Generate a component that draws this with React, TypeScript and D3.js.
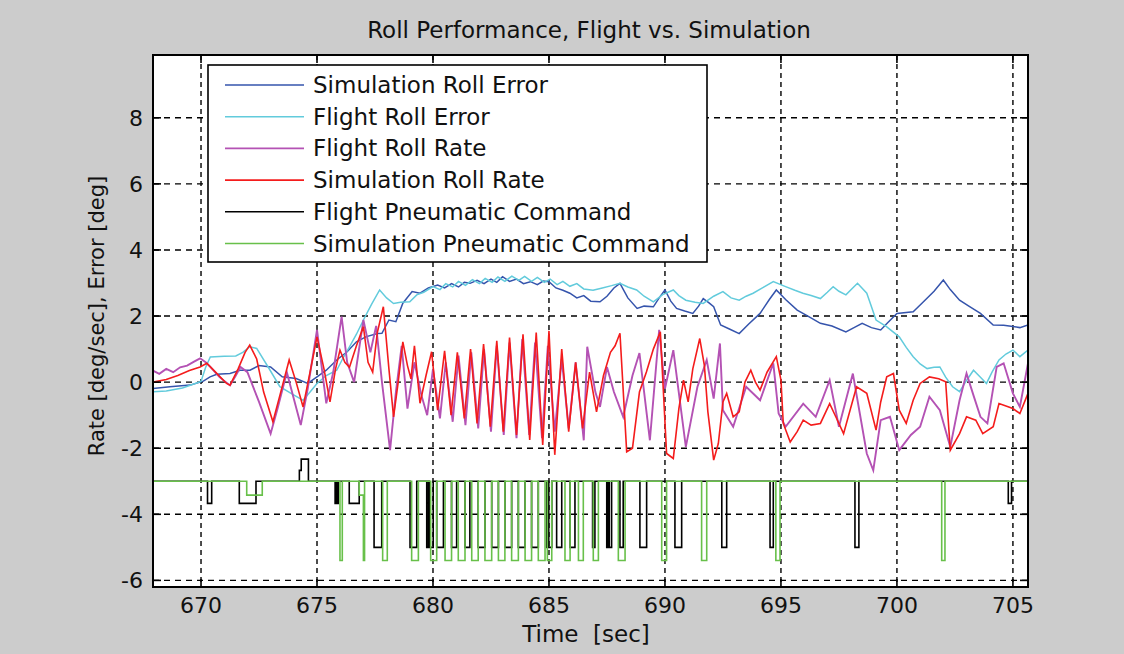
import React from 'react';
import * as d3 from 'd3';

type P = [number, number];

const xTicks = [670, 675, 680, 685, 690, 695, 700, 705];
const yTicks = [-6, -4, -2, 0, 2, 4, 6, 8];
const xDomain: [number, number] = [667.93, 705.65];
const yDomain: [number, number] = [-6.2, 9.9];

const titleText = 'Roll Performance, Flight vs. Simulation';
const xLabel = 'Time  [sec]';
const yLabel = 'Rate [deg/sec], Error [deg]';

const legendNames = [
  'Simulation Roll Error',
  'Flight Roll Error',
  'Flight Roll Rate',
  'Simulation Roll Rate',
  'Flight Pneumatic Command',
  'Simulation Pneumatic Command',
];
const colors = ['#3554ac', '#62cbdc', '#b452b4', '#f41c1c', '#000000', '#68c04a'];

const simRollError: P[] = [
  [667.93, -0.19], [668.66, -0.14], [669.53, -0.09], [670.1, 0.03], [670.39, 0.16], [670.68, 0.24],
  [671.25, 0.26], [671.68, 0.36], [672.11, 0.36], [672.5, 0.5], [673.0, 0.46], [673.5, 0.16],
  [674.1, 0.11], [674.6, -0.04], [675.0, 0.16], [675.4, 0.36], [675.85, 0.67], [676.3, 0.92],
  [676.7, 1.22], [677.1, 1.37], [677.6, 1.47], [677.8, 1.48], [678.1, 1.88], [678.4, 1.83],
  [678.7, 2.39], [679.1, 2.74], [679.44, 2.69], [679.8, 2.85], [680.2, 2.94], [680.5, 2.85],
  [680.8, 2.98], [681.1, 2.88], [681.35, 3.02], [681.6, 2.99], [681.9, 3.08], [682.2, 2.98],
  [682.5, 3.12], [682.75, 3.02], [683.0, 3.19], [683.3, 3.05], [683.6, 3.12], [683.9, 2.98],
  [684.2, 3.04], [684.5, 2.95], [684.75, 3.06], [685.0, 3.04], [685.3, 2.85], [685.6, 2.78],
  [685.9, 2.69], [686.2, 2.55], [686.5, 2.62], [686.8, 2.45], [687.2, 2.43], [687.5, 2.6],
  [687.8, 2.85], [688.06, 2.99], [688.4, 2.55], [688.8, 2.23], [689.1, 2.3], [689.5, 2.28],
  [689.75, 2.55], [690.0, 2.79], [690.25, 2.45], [690.5, 2.23], [690.85, 2.15], [691.2, 2.08],
  [691.45, 2.3], [691.65, 2.53], [691.9, 2.4], [692.1, 2.28], [692.4, 1.73], [692.8, 1.6],
  [693.2, 1.47], [693.6, 1.75], [694.1, 2.08], [694.5, 2.5], [694.8, 2.79], [695.2, 2.5],
  [695.7, 2.18], [696.2, 1.98], [696.7, 1.78], [697.2, 1.7], [697.8, 1.52], [698.15, 1.65],
  [698.5, 1.78], [698.9, 1.65], [699.3, 1.58], [699.6, 1.8], [700.0, 2.08], [700.7, 2.13],
  [701.1, 2.4], [701.6, 2.75], [702.0, 3.09], [702.3, 2.8], [702.7, 2.48], [703.1, 2.3],
  [703.6, 2.08], [704.15, 1.73], [704.6, 1.72], [705.0, 1.68], [705.3, 1.65], [705.65, 1.73],
];

const flightRollError: P[] = [
  [667.93, -0.29], [668.5, -0.27], [669.2, -0.18], [669.6, -0.08], [670.0, 0.02], [670.2, 0.45],
  [670.4, 0.76], [671.0, 0.78], [671.5, 0.79], [671.8, 0.9], [672.1, 1.07], [672.4, 1.02],
  [672.9, 0.45], [673.4, -0.14], [673.9, -0.35], [674.4, -0.55], [674.7, -0.3], [675.0, -0.04],
  [675.4, 0.2], [675.85, 0.36], [676.1, 0.7], [676.4, 1.07], [676.7, 1.45], [677.0, 1.88],
  [677.35, 2.35], [677.7, 2.79], [678.0, 2.55], [678.3, 2.38], [678.6, 2.42], [679.0, 2.43],
  [679.3, 2.64], [679.6, 2.72], [680.0, 2.89], [680.3, 2.8], [680.55, 2.98], [680.85, 2.88],
  [681.1, 3.05], [681.4, 2.93], [681.7, 3.1], [682.0, 2.98], [682.25, 3.14], [682.55, 3.02],
  [682.8, 3.18], [683.1, 3.05], [683.4, 3.21], [683.7, 3.08], [683.95, 3.2], [684.25, 3.05],
  [684.5, 3.17], [684.8, 3.02], [685.05, 3.12], [685.35, 2.95], [685.6, 3.05], [685.9, 2.9],
  [686.2, 2.98], [686.5, 2.82], [686.9, 2.78], [687.3, 2.85], [687.7, 2.92], [688.06, 2.99],
  [688.4, 2.88], [688.78, 2.79], [689.1, 2.6], [689.5, 2.43], [689.9, 2.65], [690.36, 2.79],
  [690.6, 2.62], [690.9, 2.48], [691.3, 2.42], [691.65, 2.38], [692.1, 2.6], [692.5, 2.74],
  [692.85, 2.55], [693.2, 2.48], [693.5, 2.6], [693.8, 2.69], [694.2, 2.85], [694.67, 3.04],
  [695.2, 2.89], [695.6, 2.78], [695.95, 2.69], [696.3, 2.62], [696.7, 2.53], [697.0, 2.72],
  [697.25, 2.89], [697.5, 2.75], [697.8, 2.64], [698.05, 2.82], [698.3, 2.99], [698.7, 2.69],
  [699.1, 1.88], [699.55, 1.68], [700.1, 1.37], [700.4, 1.05], [700.7, 0.77], [701.0, 0.55],
  [701.3, 0.41], [701.6, 0.45], [701.85, 0.46], [702.1, 0.15], [702.4, -0.14], [702.7, -0.29],
  [703.0, 0.05], [703.3, 0.36], [703.6, 0.15], [703.86, -0.04], [704.1, 0.3], [704.4, 0.67],
  [704.7, 0.85], [705.0, 0.97], [705.3, 0.77], [705.65, 0.97],
];

const flightRollRate: P[] = [
  [667.93, 0.35], [668.2, 0.25], [668.5, 0.4], [668.8, 0.3], [669.1, 0.45], [669.4, 0.5],
  [669.7, 0.62], [669.96, 0.72], [670.2, 0.6], [670.4, 0.46], [670.8, 0.15], [671.25, -0.1],
  [671.5, 0.2], [671.7, 0.46], [672.0, 0.3], [672.5, -0.6], [673.0, -1.56], [673.3, -0.8],
  [673.7, 0.3], [674.0, -0.5], [674.3, -1.3], [674.6, -0.2], [675.0, 1.58], [675.4, -0.64],
  [675.7, 0.3], [676.06, 1.98], [676.3, 0.6], [676.6, 0.0], [677.0, 1.88], [677.3, 0.9],
  [677.55, 1.7], [677.8, 0.0], [678.15, -2.06], [678.4, -0.3], [678.65, 1.1], [678.9, -0.8],
  [679.2, 0.6], [679.5, -0.4], [679.75, -1.0], [680.0, 0.4], [680.3, -1.1], [680.55, 0.6],
  [680.85, -1.2], [681.1, 0.8], [681.4, -1.3], [681.65, 0.9], [681.95, -1.4], [682.2, 1.0],
  [682.5, -1.5], [682.75, 1.1], [683.05, -1.6], [683.3, 1.2], [683.6, -1.7], [683.85, 1.3],
  [684.15, -1.6], [684.4, 1.2], [684.7, -1.7], [684.95, 1.1], [685.25, -1.5], [685.55, 0.7],
  [685.85, -1.4], [686.15, 0.6], [686.5, -1.76], [686.65, 1.07], [687.0, -0.3], [687.2, -0.75],
  [687.5, 0.46], [687.8, -0.3], [688.2, -1.05], [688.6, 0.2], [688.9, 0.88], [689.35, -1.76],
  [689.75, 1.58], [690.0, -0.2], [690.36, 0.97], [690.9, -1.96], [691.4, -0.14], [691.8, 0.67],
  [692.1, -0.5], [692.37, 1.17], [692.5, -0.85], [692.94, -1.35], [693.5, -0.14], [694.1, -0.55],
  [694.67, 0.57], [694.9, -0.95], [695.2, -1.35], [695.96, -0.65], [696.5, -1.05], [697.1, 0.06],
  [697.5, -1.35], [698.1, 0.26], [698.4, -0.95], [698.7, -2.16], [698.98, -2.67], [699.3, -1.15],
  [699.7, -1.05], [700.1, -2.06], [700.6, -1.6], [701.0, -1.35], [701.4, -0.44], [701.85, -0.85],
  [702.3, -1.96], [702.7, -0.55], [703.0, 0.26], [703.3, -0.4], [703.6, -1.05], [703.9, -1.25],
  [704.3, 0.46], [704.6, 0.57], [705.0, -0.34], [705.3, -0.75], [705.65, 0.57],
];

const simRollRate: P[] = [
  [667.93, 0.0], [668.5, 0.08], [669.0, 0.2], [669.5, 0.35], [669.96, 0.46], [670.25, 0.57],
  [670.7, 0.25], [671.1, -0.04], [671.25, -0.09], [671.6, 0.4], [671.9, 0.9], [672.1, 1.12],
  [672.4, 0.7], [672.7, -0.3], [673.1, -1.2], [673.4, -0.4], [673.8, 0.67], [674.1, 0.0],
  [674.4, -0.75], [674.7, 0.3], [675.0, 1.37], [675.3, 0.4], [675.56, -0.6], [675.8, 0.4],
  [675.99, 0.97], [676.2, 0.6], [676.4, 0.45], [676.7, 1.1], [677.0, 1.68], [677.2, 0.6],
  [677.4, 0.3], [677.6, 1.5], [677.86, 2.28], [678.1, 0.4], [678.3, -1.05], [678.5, 0.0],
  [678.7, 1.22], [678.9, 0.5], [679.05, 0.1], [679.2, 1.1], [679.44, -0.64], [679.7, 0.2],
  [679.94, 0.92], [680.2, -0.85], [680.5, 0.95], [680.78, -1.0], [681.05, 0.9], [681.35, -1.1],
  [681.62, 1.0], [681.9, -1.25], [682.18, 1.15], [682.47, -1.35], [682.75, 1.25], [683.03, -1.5],
  [683.3, 1.35], [683.6, -1.6], [683.88, 1.45], [684.17, -1.75], [684.45, 1.5], [684.73, -1.9],
  [685.0, 1.55], [685.25, -2.2], [685.55, 1.0], [685.85, -1.5], [686.15, 0.6], [686.45, -1.4],
  [686.75, 0.3], [687.05, -0.9], [687.35, 0.2], [687.65, 0.9], [687.85, 1.1], [688.06, 1.48],
  [688.35, -2.11], [688.6, -2.0], [688.9, -0.3], [689.2, 0.31], [689.5, 1.0], [689.8, 1.52],
  [690.07, -2.16], [690.36, -2.31], [690.6, -0.8], [690.8, 0.06], [691.0, -0.6], [691.2, 0.4],
  [691.5, 1.32], [691.7, 0.5], [691.85, -0.9], [692.1, -2.36], [692.3, -1.86], [692.5, -0.6],
  [692.66, -0.34], [692.94, -1.05], [693.2, -0.9], [693.45, 0.0], [693.7, 0.36], [693.9, 0.0],
  [694.1, -0.24], [694.4, 0.3], [694.8, 0.77], [695.0, 0.06], [695.1, -1.25], [695.4, -1.81],
  [695.7, -1.5], [695.96, -1.15], [696.3, -1.3], [696.7, -1.25], [697.1, -0.65], [697.4, -1.1],
  [697.7, -1.56], [698.0, -0.8], [698.26, -0.14], [698.7, -0.34], [699.1, -1.45], [699.3, -0.6],
  [699.56, 0.16], [699.85, 0.26], [700.1, -0.85], [700.4, -1.25], [700.7, -0.55], [701.0, -0.04],
  [701.4, 0.16], [701.8, 0.1], [702.1, 0.01], [702.3, -2.06], [702.7, -1.56], [703.0, -1.05],
  [703.4, -1.15], [703.7, -1.56], [704.15, -1.35], [704.4, -0.65], [705.0, -0.8], [705.3, -0.95],
  [705.65, -0.34],
];

// switching instants: [time, level held from that time on]
const flightCommand: P[] = [
  [667.93, -3], [670.28, -3.67], [670.46, -3], [671.65, -3.67], [672.37, -3], [674.24, -2.67],
  [674.32, -2.33], [674.63, -3], [675.78, -3.67], [675.82, -3], [675.85, -3.67], [675.92, -3],
  [676.39, -3.67], [676.82, -3], [677.46, -5], [677.79, -3], [679.01, -5], [679.3, -3],
  [679.73, -5], [679.8, -3], [679.84, -5], [680.01, -3], [680.16, -5], [680.45, -3],
  [680.8, -5], [681.02, -3], [681.38, -5], [681.59, -3], [681.95, -5], [682.24, -3],
  [682.53, -5], [682.82, -3], [683.1, -5], [683.39, -3], [683.68, -5], [683.97, -3],
  [684.25, -5], [684.54, -3], [684.9, -5], [684.95, -3], [684.99, -5], [685.12, -3],
  [685.33, -5], [685.55, -3], [685.91, -5], [686.12, -3], [686.88, -5], [686.98, -3],
  [687.49, -5], [687.56, -3], [687.6, -5], [687.7, -3], [688.06, -5], [688.2, -3],
  [688.92, -5], [689.21, -3], [690.43, -5], [690.72, -3], [692.45, -5], [692.66, -3],
  [694.53, -5], [694.67, -3], [698.19, -5], [698.36, -3], [704.8, -3.67], [704.94, -3],
  [705.65, -3],
];

const simCommand: P[] = [
  [667.93, -3], [671.97, -3.42], [672.64, -3], [675.99, -5.4], [676.09, -3], [676.82, -3.42],
  [677.0, -5.4], [677.05, -3], [677.83, -5.4], [678.03, -3], [679.08, -5.4], [679.37, -3],
  [679.9, -5.4], [680.16, -3], [680.52, -5.4], [680.8, -3], [681.09, -5.4], [681.38, -3],
  [681.67, -5.4], [681.95, -3], [682.24, -5.4], [682.53, -3], [682.82, -5.4], [683.1, -3],
  [683.39, -5.4], [683.68, -3], [683.97, -5.4], [684.25, -3], [684.54, -5.4], [684.83, -3],
  [684.93, -5.4], [685.12, -3], [685.69, -5.4], [685.91, -3], [686.27, -5.4], [686.48, -3],
  [686.91, -5.4], [687.13, -3], [687.99, -5.4], [688.28, -3], [689.86, -5.4], [690.07, -3],
  [691.58, -5.4], [691.8, -3], [694.78, -5.4], [694.96, -3], [701.93, -5.4], [702.07, -3],
  [705.65, -3],
];

const FONT = '"DejaVu Sans", "Liberation Sans", sans-serif';

export default function App() {
  const W = 1124;
  const H = 654;
  const x = d3.scaleLinear().domain(xDomain).range([153, 1028]);
  const y = d3.scaleLinear().domain(yDomain).range([587, 55]);
  const [x0, x1] = x.range();
  const [y0, y1] = y.range();

  const lineGen = d3.line<P>().x((d) => x(d[0])).y((d) => y(d[1]));
  const stepGen = d3
    .line<P>()
    .x((d) => x(d[0]))
    .y((d) => y(d[1]))
    .curve(d3.curveStepAfter);

  const series: { data: P[]; gen: d3.Line<P>; width: number }[] = [
    { data: simRollError, gen: lineGen, width: 1.5 },
    { data: flightRollError, gen: lineGen, width: 1.5 },
    { data: flightRollRate, gen: lineGen, width: 1.9 },
    { data: simRollRate, gen: lineGen, width: 1.6 },
    { data: flightCommand, gen: stepGen, width: 1.6 },
    { data: simCommand, gen: stepGen, width: 1.6 },
  ];

  const legendX = 208;
  const legendY = 65;
  const legendW = 499;
  const legendH = 197;
  const rowStart = 85;
  const rowGap = 31.7;

  return (
    <svg
      width={W}
      height={H}
      style={{ position: 'absolute', left: 0, top: 0, display: 'block' }}
      fontFamily={FONT}
    >
      <defs>
        <clipPath id="plotClip">
          <rect x={x0} y={y1} width={x1 - x0} height={y0 - y1} />
        </clipPath>
      </defs>
      <rect x={0} y={0} width={W} height={H} fill="#cccccc" />
      <rect x={x0} y={y1} width={x1 - x0} height={y0 - y1} fill="#ffffff" />

      {/* grid */}
      <g stroke="#000" strokeWidth={1.4}>
        {xTicks.map((t) => (
          <line key={'gx' + t} x1={x(t)} x2={x(t)} y1={y1} y2={y0} strokeDasharray="5,4" />
        ))}
        {yTicks.map((t) => (
          <line key={'gy' + t} x1={x0} x2={x1} y1={y(t)} y2={y(t)} strokeDasharray="6,5" />
        ))}
      </g>

      {/* data */}
      <g clipPath="url(#plotClip)" fill="none" strokeLinejoin="miter">
        {series.map((s, i) => (
          <path key={'s' + i} d={s.gen(s.data) || ''} stroke={colors[i]} strokeWidth={s.width} />
        ))}
      </g>

      {/* axes box and ticks */}
      <rect x={x0} y={y1} width={x1 - x0} height={y0 - y1} fill="none" stroke="#000" strokeWidth={2} />
      <g stroke="#000" strokeWidth={1.6}>
        {xTicks.map((t) => (
          <g key={'tx' + t}>
            <line x1={x(t)} x2={x(t)} y1={y0} y2={y0 - 8} />
            <line x1={x(t)} x2={x(t)} y1={y1} y2={y1 + 8} />
          </g>
        ))}
        {yTicks.map((t) => (
          <g key={'ty' + t}>
            <line x1={x0} x2={x0 + 8} y1={y(t)} y2={y(t)} />
            <line x1={x1} x2={x1 - 8} y1={y(t)} y2={y(t)} />
          </g>
        ))}
      </g>

      {/* tick labels */}
      <g fontSize={22} fill="#111">
        {xTicks.map((t) => (
          <text key={'lx' + t} x={x(t)} y={613} textAnchor="middle">
            {t}
          </text>
        ))}
        {yTicks.map((t) => (
          <text key={'ly' + t} x={143} y={y(t) + 8} textAnchor="end">
            {t}
          </text>
        ))}
      </g>

      {/* legend */}
      <rect x={legendX} y={legendY} width={legendW} height={legendH} fill="#fff" stroke="#000" strokeWidth={1.6} />
      {legendNames.map((n, i) => {
        const ry = rowStart + i * rowGap;
        return (
          <g key={'lg' + i}>
            <line x1={225} x2={304} y1={ry} y2={ry} stroke={colors[i]} strokeWidth={1.6} />
            <text x={313} y={ry + 8} fontSize={23} fill="#111">
              {n}
            </text>
          </g>
        );
      })}

      {/* titles */}
      <text x={589} y={38} fontSize={23} textAnchor="middle" fill="#111">
        {titleText}
      </text>
      <text x={586} y={642} fontSize={23} textAnchor="middle" fill="#111" style={{ whiteSpace: 'pre' }}>
        {xLabel}
      </text>
      <text transform={`translate(104, 316) rotate(-90)`} fontSize={21} textAnchor="middle" fill="#111">
        {yLabel}
      </text>
    </svg>
  );
}
